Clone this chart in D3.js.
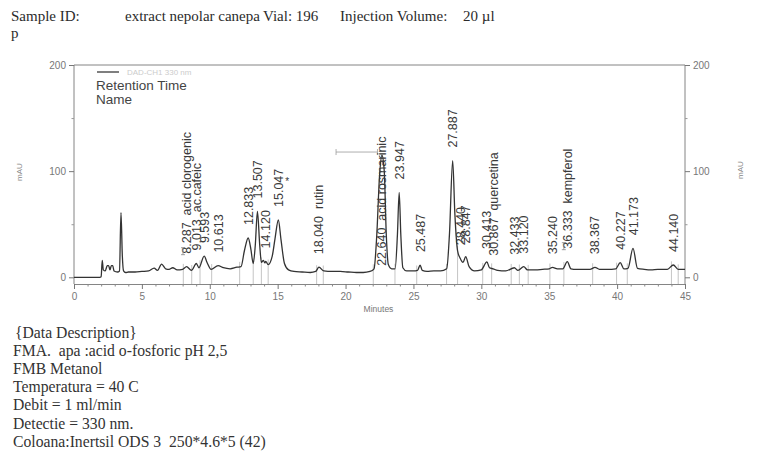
<!DOCTYPE html>
<html><head><meta charset="utf-8">
<script src="https://cdn.jsdelivr.net/npm/d3@7/dist/d3.min.js"></script>
<style>
body{margin:0;background:#fff;}
svg text{white-space:pre;}
</style></head>
<body>
<svg id="c" width="768" height="456"></svg>
<script>
// ---- data ----
const traceT = [0,1.9,2.0,2.08,2.16,2.3,2.45,2.55,2.65,2.75,2.85,2.95,3.2,3.35,3.46,3.56,3.65,3.8,4.0,4.5,5.0,5.5,5.9,6.15,6.45,6.75,7.0,7.27,7.6,8.0,8.29,8.65,9.01,9.2,9.59,9.8,10.1,10.61,11.0,11.5,12.0,12.3,12.55,12.83,13.02,13.2,13.35,13.51,13.68,13.8,13.95,14.05,14.12,14.3,14.6,14.8,15.05,15.25,15.5,15.8,16.2,16.8,17.4,17.8,18.04,18.4,19.0,19.6,20.2,20.8,21.3,21.8,22.1,22.3,22.5,22.68,22.85,23.0,23.15,23.4,23.65,23.82,23.95,24.07,24.22,24.5,25.0,25.3,25.49,25.65,26.0,26.5,27.0,27.45,27.65,27.89,28.05,28.25,28.44,28.65,28.85,29.1,29.5,30.0,30.41,30.6,30.87,31.2,31.8,32.43,32.7,33.12,33.4,34.0,34.5,35.0,35.24,35.6,36.0,36.33,36.6,37.0,37.6,38.0,38.37,38.7,39.3,39.9,40.23,40.5,40.8,41.17,41.5,42.0,42.5,43.0,43.7,44.14,44.5,45.0];
const traceV = [0,0,0.5,16,7,6,11,11,7,11,11,6,5,6,61,20,6,4.5,5,5,5.5,6,8.7,6.5,12.5,8,7.5,9,7,7.5,10,6.5,13,9,20,14,7.5,11,9,8,9.5,10,25,37,27,13,30,62,30,14,16,13.5,15,12,20,36,54,35,13,7,5.5,5,4.5,5.5,9.5,6,5.5,5.5,5,4.5,4.5,5.5,8,40,95,115,100,40,12,8,8,40,80,40,9,6,6,6.5,11.5,6.5,5.5,6,6,8,40,110,60,25,18,14,19.5,10,6,7,14.5,9,8,6.5,6,9,6.5,10,7,7,7.5,8,9.4,8,8,14.7,8,7.5,7.5,7.5,9.4,7.5,7.5,8,13.8,8,8.5,27.3,8.5,7.5,7,7.5,7.5,11.6,7.5,7.5];

const peakRT   = ["8.287","9.013","9.593","10.613","12.833","13.507","14.120","15.047","18.040","22.640","23.947","25.487","27.887","28.440","28.847","30.413","30.867","32.433","33.120","35.240","36.333","38.367","40.227","41.173","44.140"];
const peakName = ["acid clorogenic","ac.cafeic","","","","","","","rutin","acid rosmarinic","","","","","","","quercetina","","","","kempferol","","","",""];
const baseAnchored = ["22.640"];
const starPeak = "15.047";

const boundaryT = [8.05,8.67,9.28,10.14,12.2,13.2,13.8,14.3,17.87,18.36,22.04,23.64,25.24,27.44,28.25,30.1,30.76,32.2,32.8,33.45,35.05,36.08,38.2,39.96,40.75,44.0,44.5];
const markerI = ["8.287","36.333"];
const bracketT = [19.3, 22.35];
const bracketV = 118;

const xMajor = [0,5,10,15,20,25,30,35,40,45];
const yMajor = [0,100,200];
const yMinor = [50,150];

const headerParts = [["Sample ID:",11],["extract nepolar canepa",125],["Vial: 196",263],["Injection Volume:",340],["20 µl",463]];
const descLines = ["{Data Description}","FMA.  apa :acid o-fosforic pH 2,5","FMB Metanol","Temperatura = 40 C","Debit = 1 ml/min","Detectie = 330 nm.","Coloana:Inertsil ODS 3  250*4.6*5 (42)"];

// ---- drawing ----
const svg = d3.select("#c");
const L = 74, R = 685, T = 65, axisY = 284;
const x = d3.scaleLinear().domain([0,45]).range([L,R]);
const y = d3.scaleLinear().domain([0,200]).range([277.3,T]);
const sans = "'Liberation Sans', Arial, sans-serif";
const serif = "'Liberation Serif', 'Times New Roman', serif";

// header
const hdr = svg.append("g").attr("font-family",serif).attr("font-size",15).attr("fill","#2b2b2b");
headerParts.forEach(([t,px])=>hdr.append("text").attr("x",px).attr("y",20.5).text(t));
hdr.append("text").attr("x",11).attr("y",38).text("p");

// frame lines
svg.append("line").attr("x1",L).attr("x2",R).attr("y1",T).attr("y2",T).attr("stroke","#777").attr("stroke-width",0.9);
svg.append("line").attr("x1",L).attr("x2",L).attr("y1",T).attr("y2",axisY).attr("stroke","#777").attr("stroke-width",0.9);
svg.append("line").attr("x1",R).attr("x2",R).attr("y1",T).attr("y2",axisY).attr("stroke","#777").attr("stroke-width",0.9);

// x axis
const xa = svg.append("g").attr("transform",`translate(0,${axisY})`)
  .call(d3.axisBottom(x).tickValues(xMajor).tickSize(5).tickPadding(4).tickFormat(d3.format("d")));
xa.select(".domain").attr("stroke","#777").attr("stroke-width",0.9);
xa.selectAll(".tick line").attr("stroke","#777");
xa.selectAll("text").attr("font-family",sans).attr("font-size",10).attr("fill","#777");
svg.append("g").attr("transform",`translate(0,${axisY})`)
  .call(d3.axisBottom(x).tickValues(d3.range(0,46,1).filter(v=>v%5)).tickSize(2.5).tickFormat(""))
  .call(g=>{g.select(".domain").remove();g.selectAll("line").attr("stroke","#888");});
svg.append("text").attr("x",(L+R)/2 - 1).attr("y",312).attr("text-anchor","middle")
  .attr("font-family",sans).attr("font-size",8.5).attr("fill","#777").text("Minutes");

// y axes
function yAxis(axisFn, px){
  const g = svg.append("g").attr("transform",`translate(${px},0)`)
    .call(axisFn(y).tickValues(yMajor).tickSize(5).tickPadding(3).tickFormat(d3.format("d")));
  g.select(".domain").remove();
  g.selectAll(".tick line").attr("stroke","#777");
  g.selectAll("text").attr("font-family",sans).attr("font-size",10).attr("fill","#777");
  svg.append("g").attr("transform",`translate(${px},0)`)
    .call(axisFn(y).tickValues(yMinor).tickSize(2.5).tickFormat(""))
    .call(gg=>{gg.select(".domain").remove();gg.selectAll("line").attr("stroke","#999");});
}
yAxis(d3.axisLeft, L);
yAxis(d3.axisRight, R);
svg.append("text").attr("transform","translate(22,172) rotate(-90)").attr("text-anchor","middle")
  .attr("font-family",sans).attr("font-size",8).attr("fill","#888").text("mAU");
svg.append("text").attr("transform","translate(743,170) rotate(-90)").attr("text-anchor","middle")
  .attr("font-family",sans).attr("font-size",8).attr("fill","#888").text("mAU");

// trace helpers
const pts = traceT.map((t,i)=>[t,traceV[i]]);
const bis = d3.bisector(d=>d[0]).left;
function valAt(t){
  const i = Math.max(1, Math.min(pts.length-1, bis(pts,t)));
  const a = pts[i-1], b = pts[i];
  return a[1] + (b[1]-a[1])*(t-a[0])/(b[0]-a[0]);
}
function peakVal(t){
  let m = valAt(t);
  pts.forEach(p=>{ if (Math.abs(p[0]-t)<=0.12) m = Math.max(m,p[1]); });
  return m;
}

// integration boundary lines
svg.append("g").selectAll("line").data(boundaryT).join("line")
  .attr("x1",d=>x(d)).attr("x2",d=>x(d)).attr("y1",axisY).attr("y2",d=>y(valAt(d))-5)
  .attr("stroke","#b5b5b5").attr("stroke-width",0.8);

// bracket annotation
const br = svg.append("g").attr("stroke","#999").attr("stroke-width",0.8);
br.append("line").attr("x1",x(bracketT[0])).attr("x2",x(bracketT[1])).attr("y1",y(bracketV)).attr("y2",y(bracketV));
bracketT.forEach(t=>br.append("line").attr("x1",x(t)).attr("x2",x(t)).attr("y1",y(bracketV)-3).attr("y2",y(bracketV)+3));

// trace
svg.append("path").datum(pts)
  .attr("d",d3.line().x(d=>x(d[0])).y(d=>y(d[1])).curve(d3.curveMonotoneX))
  .attr("fill","none").attr("stroke","#333").attr("stroke-width",1.3);

// peak labels
const lab = svg.append("g").attr("font-family",sans).attr("font-size",12.5).attr("fill","#3a3a3a");
peakRT.forEach((rt,i)=>{
  const t = +rt;
  const base = baseAnchored.includes(rt);
  const bottom = base ? y(valAt(t-0.6)) - 3.5 : y(peakVal(t)) - 13;
  const txt = peakName[i] ? rt + "  " + peakName[i] : rt;
  lab.append("text").attr("transform",`translate(${x(t)+4.5},${bottom}) rotate(-90)`).text(txt);
  if (rt === starPeak){
    lab.append("text").attr("x",x(t)+7).attr("y",bottom-22).attr("font-size",10).text("*");
  }
  if (markerI.includes(rt)){
    const mx = x(t)-3.5, my = bottom;
    const g = svg.append("g").attr("stroke","#888").attr("stroke-width",0.8);
    g.append("line").attr("x1",mx).attr("x2",mx).attr("y1",my-6).attr("y2",my+1);
    g.append("line").attr("x1",mx-2).attr("x2",mx+2).attr("y1",my-6).attr("y2",my-6);
    g.append("line").attr("x1",mx-2).attr("x2",mx+2).attr("y1",my+1).attr("y2",my+1);
  }
});

// legend
svg.append("line").attr("x1",97).attr("x2",119).attr("y1",72).attr("y2",72).attr("stroke","#555").attr("stroke-width",1.5);
svg.append("text").attr("x",127).attr("y",75).attr("font-family",sans).attr("font-size",8).attr("fill","#ccc").text("DAD-CH1 330 nm");
svg.append("text").attr("x",96).attr("y",90).attr("font-family",sans).attr("font-size",13.5).attr("fill","#444").text("Retention Time");
svg.append("text").attr("x",96).attr("y",104).attr("font-family",sans).attr("font-size",13.5).attr("fill","#444").text("Name");

// description
const ds = svg.append("g").attr("font-family",serif).attr("font-size",15.7).attr("fill","#333");
descLines.forEach((s,i)=>ds.append("text").attr("x", i===0 ? 15 : 13).attr("y",338 + i*18.1).text(s));
</script>
</body></html>
